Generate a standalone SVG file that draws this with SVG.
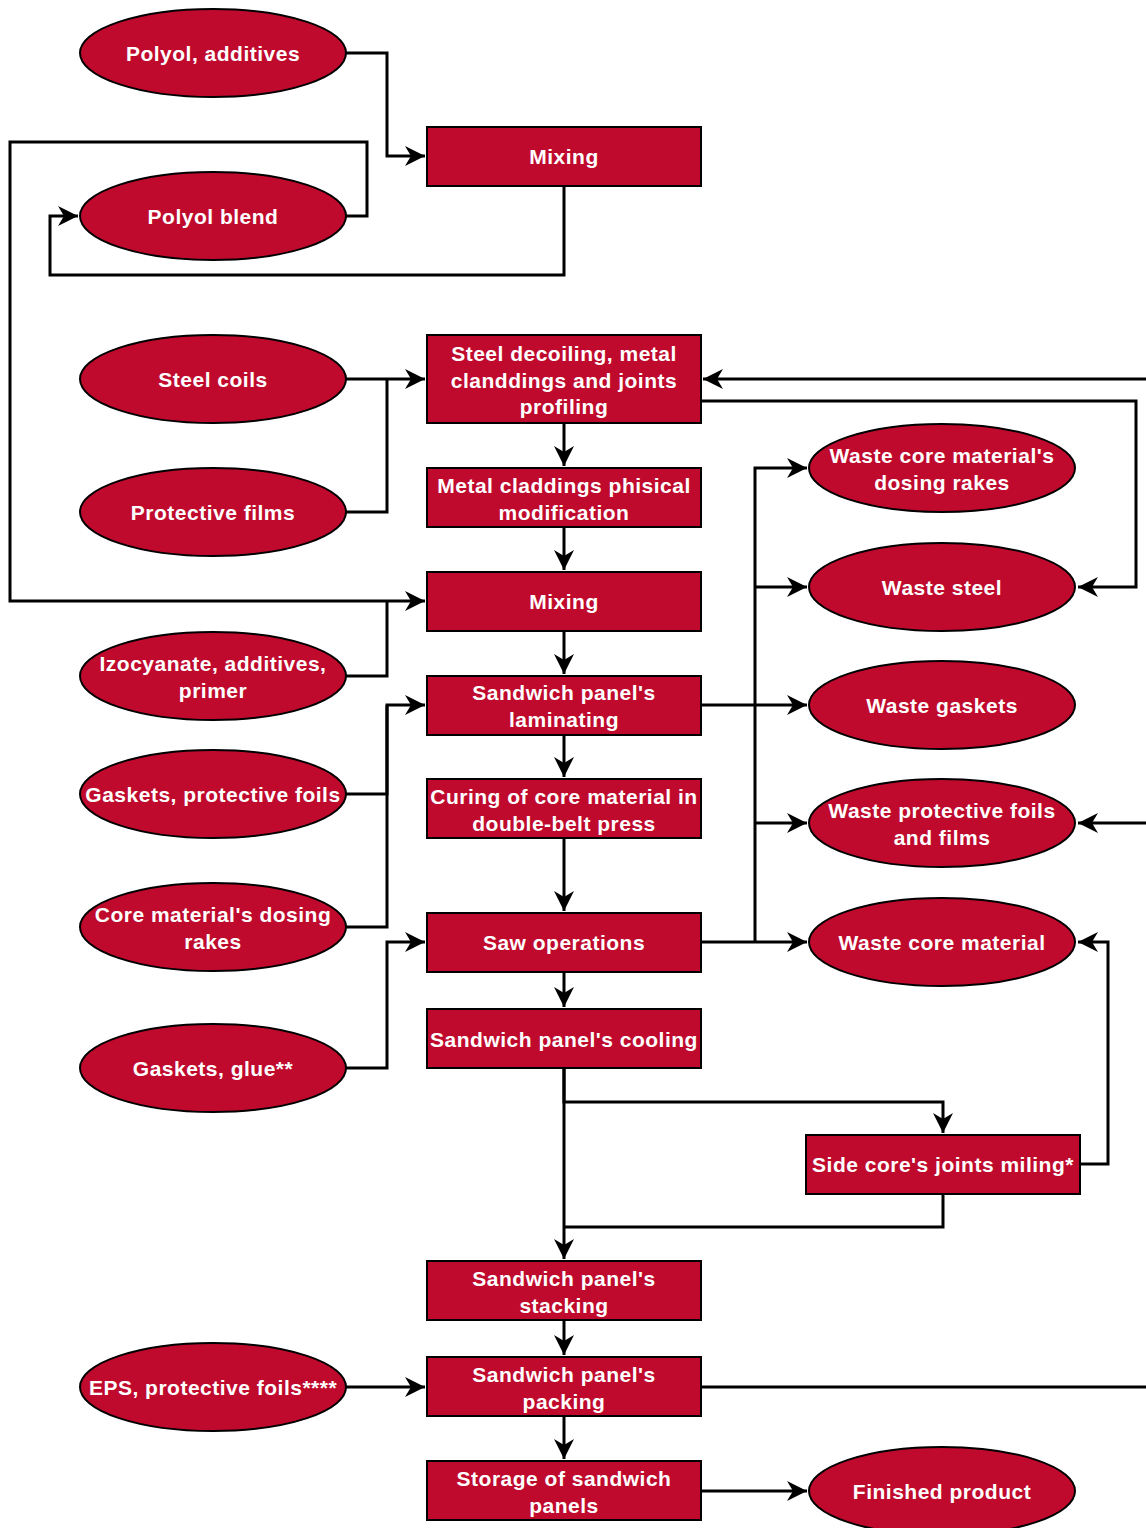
<svg xmlns="http://www.w3.org/2000/svg" width="1146" height="1528" viewBox="0 0 1146 1528">
<style>
.n{fill:#BF0A2D;stroke:#000;stroke-width:2}
.t{fill:#fff;font-family:"Liberation Sans",Arial,sans-serif;font-weight:bold;font-size:21px;letter-spacing:0.5px;text-anchor:middle;dominant-baseline:central}
.c{fill:none;stroke:#000;stroke-width:3}
</style>
<defs>
<marker id="arr" markerUnits="userSpaceOnUse" markerWidth="22" markerHeight="22" refX="20" refY="11" orient="auto">
<path d="M0,1 L20,11 L0,21 L6,11 z" fill="#000"/>
</marker>
</defs>
<rect width="1146" height="1528" fill="#fff"/>
<g id="connectors">
<path class="c" d="M346,53 H387 V156 H425" marker-end="url(#arr)"/>
<path class="c" d="M564,186 V275 H50 V216 H78" marker-end="url(#arr)"/>
<path class="c" d="M346,216 H367 V142 H10 V601 H425" marker-end="url(#arr)"/>
<path class="c" d="M346,379 H425" marker-end="url(#arr)"/>
<path class="c" d="M346,512 H387 V379"/>
<path class="c" d="M346,676 H387 V601"/>
<path class="c" d="M564,423 V466" marker-end="url(#arr)"/>
<path class="c" d="M564,527 V570" marker-end="url(#arr)"/>
<path class="c" d="M564,631 V674" marker-end="url(#arr)"/>
<path class="c" d="M564,735 V777" marker-end="url(#arr)"/>
<path class="c" d="M564,838 V911" marker-end="url(#arr)"/>
<path class="c" d="M564,972 V1007" marker-end="url(#arr)"/>
<path class="c" d="M346,794 H387 V705 H425" marker-end="url(#arr)"/>
<path class="c" d="M346,927 H387 V705"/>
<path class="c" d="M346,1068 H387 V942 H425" marker-end="url(#arr)"/>
<path class="c" d="M1146,379 H703" marker-end="url(#arr)"/>
<path class="c" d="M701,401 H1136 V587 H1078" marker-end="url(#arr)"/>
<path class="c" d="M701,705 H807" marker-end="url(#arr)"/>
<path class="c" d="M701,942 H807" marker-end="url(#arr)"/>
<path class="c" d="M755,942 V468 H807" marker-end="url(#arr)"/>
<path class="c" d="M755,587 H807" marker-end="url(#arr)"/>
<path class="c" d="M755,823 H807" marker-end="url(#arr)"/>
<path class="c" d="M1146,823 H1078" marker-end="url(#arr)"/>
<path class="c" d="M564,1068 V1102 H943 V1133" marker-end="url(#arr)"/>
<path class="c" d="M564,1068 V1259" marker-end="url(#arr)"/>
<path class="c" d="M943,1194 V1227 H564"/>
<path class="c" d="M1080,1164 H1108 V942 H1078" marker-end="url(#arr)"/>
<path class="c" d="M564,1320 V1355" marker-end="url(#arr)"/>
<path class="c" d="M346,1387 H425" marker-end="url(#arr)"/>
<path class="c" d="M701,1387 H1146"/>
<path class="c" d="M564,1416 V1459" marker-end="url(#arr)"/>
<path class="c" d="M701,1491 H807" marker-end="url(#arr)"/>
</g>
<g id="polyol-additives"><ellipse class="n" cx="213" cy="53" rx="133" ry="44"/><text class="t" x="213" y="53">Polyol, additives</text></g>
<g id="polyol-blend"><ellipse class="n" cx="213" cy="216" rx="133" ry="44"/><text class="t" x="213" y="216">Polyol blend</text></g>
<g id="steel-coils"><ellipse class="n" cx="213" cy="379" rx="133" ry="44"/><text class="t" x="213" y="379">Steel coils</text></g>
<g id="protective-films"><ellipse class="n" cx="213" cy="512" rx="133" ry="44"/><text class="t" x="213" y="512">Protective films</text></g>
<g id="izocyanate"><ellipse class="n" cx="213" cy="676" rx="133" ry="44"/><text class="t" x="213" y="663">Izocyanate, additives,</text><text class="t" x="213" y="690">primer</text></g>
<g id="gaskets-foils"><ellipse class="n" cx="213" cy="794" rx="133" ry="44"/><text class="t" x="213" y="794">Gaskets, protective foils</text></g>
<g id="core-dosing-rakes"><ellipse class="n" cx="213" cy="927" rx="133" ry="44"/><text class="t" x="213" y="914">Core material's dosing</text><text class="t" x="213" y="941">rakes</text></g>
<g id="gaskets-glue"><ellipse class="n" cx="213" cy="1068" rx="133" ry="44"/><text class="t" x="213" y="1068">Gaskets, glue**</text></g>
<g id="eps-foils"><ellipse class="n" cx="213" cy="1387" rx="133" ry="44"/><text class="t" x="213" y="1387">EPS, protective foils****</text></g>
<g id="mixing1"><rect class="n" x="427" y="127" width="274" height="59"/><text class="t" x="564" y="156">Mixing</text></g>
<g id="steel-decoiling"><rect class="n" x="427" y="335" width="274" height="88"/><text class="t" x="564" y="353">Steel decoiling, metal</text><text class="t" x="564" y="380">clanddings and joints</text><text class="t" x="564" y="406">profiling</text></g>
<g id="metal-claddings"><rect class="n" x="427" y="468" width="274" height="59"/><text class="t" x="564" y="485">Metal claddings phisical</text><text class="t" x="564" y="512">modification</text></g>
<g id="mixing2"><rect class="n" x="427" y="572" width="274" height="59"/><text class="t" x="564" y="601">Mixing</text></g>
<g id="laminating"><rect class="n" x="427" y="676" width="274" height="59"/><text class="t" x="564" y="692">Sandwich panel's</text><text class="t" x="564" y="719">laminating</text></g>
<g id="curing"><rect class="n" x="427" y="779" width="274" height="59"/><text class="t" x="564" y="796">Curing of core material in</text><text class="t" x="564" y="823">double-belt press</text></g>
<g id="saw"><rect class="n" x="427" y="913" width="274" height="59"/><text class="t" x="564" y="942">Saw operations</text></g>
<g id="cooling"><rect class="n" x="427" y="1009" width="274" height="59"/><text class="t" x="564" y="1039">Sandwich panel's cooling</text></g>
<g id="side-core-miling"><rect class="n" x="806" y="1135" width="274" height="59"/><text class="t" x="943" y="1164">Side core's joints miling*</text></g>
<g id="stacking"><rect class="n" x="427" y="1261" width="274" height="59"/><text class="t" x="564" y="1278">Sandwich panel's</text><text class="t" x="564" y="1305">stacking</text></g>
<g id="packing"><rect class="n" x="427" y="1357" width="274" height="59"/><text class="t" x="564" y="1374">Sandwich panel's</text><text class="t" x="564" y="1401">packing</text></g>
<g id="storage"><rect class="n" x="427" y="1461" width="274" height="59"/><text class="t" x="564" y="1478">Storage of sandwich</text><text class="t" x="564" y="1505">panels</text></g>
<g id="waste-dosing-rakes"><ellipse class="n" cx="942" cy="468" rx="133" ry="44"/><text class="t" x="942" y="455">Waste core material's</text><text class="t" x="942" y="482">dosing rakes</text></g>
<g id="waste-steel"><ellipse class="n" cx="942" cy="587" rx="133" ry="44"/><text class="t" x="942" y="587">Waste steel</text></g>
<g id="waste-gaskets"><ellipse class="n" cx="942" cy="705" rx="133" ry="44"/><text class="t" x="942" y="705">Waste gaskets</text></g>
<g id="waste-foils-films"><ellipse class="n" cx="942" cy="823" rx="133" ry="44"/><text class="t" x="942" y="810">Waste protective foils</text><text class="t" x="942" y="837">and films</text></g>
<g id="waste-core"><ellipse class="n" cx="942" cy="942" rx="133" ry="44"/><text class="t" x="942" y="942">Waste core material</text></g>
<g id="finished-product"><ellipse class="n" cx="942" cy="1491" rx="133" ry="44"/><text class="t" x="942" y="1491">Finished product</text></g>
</svg>
